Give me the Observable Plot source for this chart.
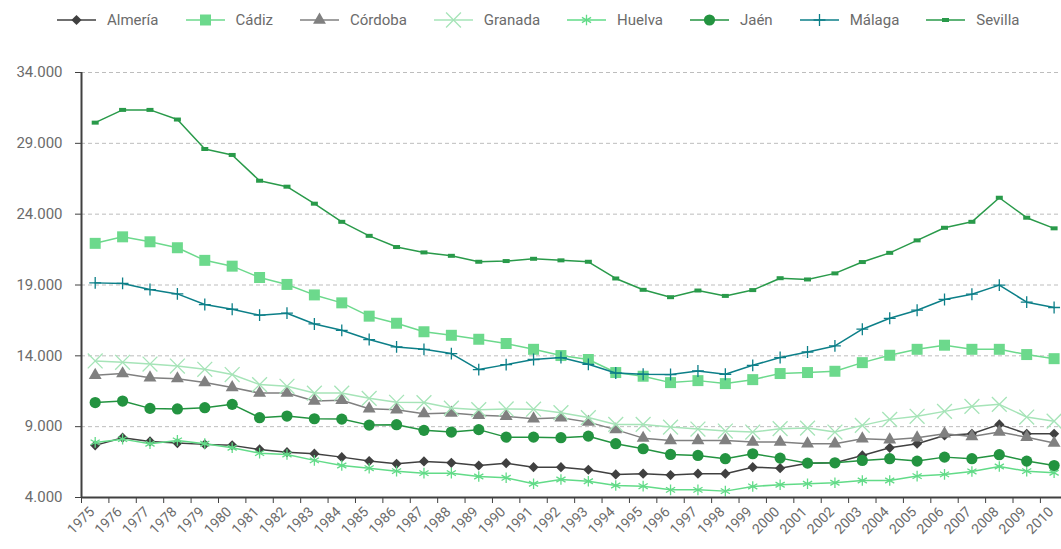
<!DOCTYPE html>
<html><head><meta charset="utf-8">
<script src="https://cdn.jsdelivr.net/npm/d3@7"></script>
<script src="https://cdn.jsdelivr.net/npm/@observablehq/plot@0.6"></script>
<style>
body{margin:0;background:#fff;font-family:Roboto,"Noto Sans",sans-serif;}
#legend{height:40px;display:flex;align-items:center;padding-left:57px;gap:27px;color:#6b6b6b;font-size:15px;box-sizing:border-box;}
.item{display:flex;align-items:center;gap:11px;}
.item svg{display:block;}
</style></head><body>
<div id="legend"></div>
<div id="chart"></div>
<script>
const years = [1975,1976,1977,1978,1979,1980,1981,1982,1983,1984,1985,1986,1987,1988,1989,1990,1991,1992,1993,1994,1995,1996,1997,1998,1999,2000,2001,2002,2003,2004,2005,2006,2007,2008,2009,2010];
const yTicks = [4000,9000,14000,19000,24000,29000,34000];

const almeria = [7680,8220,7960,7840,7750,7680,7390,7200,7090,6850,6570,6380,6545,6450,6260,6425,6140,6140,5960,5630,5680,5580,5680,5680,6140,6070,6425,6450,6970,7510,7800,8380,8500,9160,8500,8500];
const cadiz = [21940,22400,22050,21630,20740,20330,19530,19040,18300,17740,16800,16300,15700,15450,15170,14870,14460,14020,13740,12820,12560,12110,12250,12040,12320,12750,12820,12910,13520,14040,14460,14750,14460,14460,14090,13800];
const cordoba = [12625,12745,12460,12390,12110,11760,11370,11370,10810,10860,10270,10200,9920,9960,9800,9730,9560,9635,9320,8790,8190,8030,8030,8030,7910,7910,7800,7800,8150,8080,8220,8500,8310,8620,8260,7840];
const granada = [13640,13545,13420,13280,13050,12680,11970,11850,11370,11370,11000,10720,10700,10310,10200,10250,10230,9990,9640,9160,9160,8970,8830,8690,8620,8860,8900,8620,9090,9515,9730,10080,10430,10575,9680,9390];
const huelva = [7890,8120,7800,8030,7800,7510,7130,7040,6620,6260,6070,5860,5720,5720,5485,5390,4970,5270,5150,4850,4800,4540,4540,4450,4780,4900,4970,5040,5200,5200,5510,5630,5840,6190,5860,5750];
const jaen = [10700,10810,10290,10250,10340,10575,9635,9750,9560,9535,9110,9140,8740,8620,8790,8260,8260,8220,8330,7800,7440,7040,6970,6740,7090,6780,6425,6450,6616,6740,6570,6850,6740,7020,6570,6260];
const malaga = [19150,19110,18680,18370,17620,17290,16870,17010,16250,15800,15150,14630,14460,14160,13030,13380,13740,13880,13400,12790,12700,12680,12930,12700,13330,13880,14270,14700,15880,16650,17220,17980,18350,18990,17790,17410];
const sevilla = [30460,31360,31360,30680,28600,28180,26360,25940,24740,23460,22470,21680,21300,21060,20640,20690,20850,20740,20640,19460,18660,18140,18610,18230,18640,19480,19390,19820,20620,21270,22150,23040,23460,25160,23750,23000];

const dash = {draw(ctx){ ctx.rect(-3.5,-2,7,4); }};

const series = [
  {name:"Almería", values:almeria, color:"#404040", symbol:"diamond2", r:4.6, filled:true},
  {name:"Cádiz", values:cadiz, color:"#6cd98c", symbol:"square", r:6.2, filled:true},
  {name:"Córdoba", values:cordoba, color:"#808080", symbol:"triangle", r:4.8, filled:true},
  {name:"Granada", values:granada, color:"#a6e4b8", symbol:"times", r:6.8, filled:false},
  {name:"Huelva", values:huelva, color:"#62db88", symbol:"asterisk", r:5, filled:false},
  {name:"Jaén", values:jaen, color:"#239340", symbol:"circle", r:5.6, filled:true},
  {name:"Málaga", values:malaga, color:"#0c7f88", symbol:"plus", r:3.9, filled:false},
  {name:"Sevilla", values:sevilla, color:"#299a4a", symbol:dash, r:4, filled:true}
];

const fmt = d3.formatLocale({decimal:",", thousands:".", grouping:[3]}).format(",.0f");

const marks = [
  Plot.gridY(yTicks.filter(v => v > 4000), {stroke:"#bdbdbd", strokeOpacity:1, strokeDasharray:"4,3"}),
  Plot.axisY({ticks:yTicks, tickSize:6, tickPadding:13, tickFormat:fmt, fontSize:15, stroke:"#404040", fill:"#6b6b6b", label:null}),
  Plot.axisX({ticks:years.map(y => y - 0.5), tickSize:6, tickFormat:() => "", stroke:"#404040", label:null}),
  Plot.axisX({ticks:years, tickSize:0, tickPadding:12, tickRotate:-45, fontSize:14, fill:"#6b6b6b", tickFormat:d => String(d), label:null, dx:-3})
];
for (const s of series) {
  const data = years.map((y, i) => ({year:y, value:s.values[i]}));
  marks.push(Plot.line(data, {x:"year", y:"value", stroke:s.color, strokeWidth:1.5}));
  marks.push(Plot.dot(data, s.filled
    ? {x:"year", y:"value", symbol:s.symbol, r:s.r, fill:s.color, stroke:"none"}
    : {x:"year", y:"value", symbol:s.symbol, r:s.r, stroke:s.color, strokeWidth:1.3, fill:"none"}));
}
marks.push(Plot.ruleX([1974.5], {stroke:"#404040", strokeWidth:2}));
marks.push(Plot.ruleY([4000], {stroke:"#404040", strokeWidth:2}));

const chart = Plot.plot({
  width:1061, height:509,
  marginTop:32, marginBottom:52, marginLeft:81, marginRight:0,
  style:{fontFamily:"Roboto, 'Noto Sans', sans-serif", background:"#fff"},
  x:{domain:[1974.5, 2010.27]},
  y:{domain:[4000, 34000]},
  marks
});
document.getElementById("chart").appendChild(chart);

// legend
const legend = d3.select("#legend");
const symMap = {diamond2:d3.symbolDiamond2, square:d3.symbolSquare, triangle:d3.symbolTriangle, times:d3.symbolTimes, asterisk:d3.symbolAsterisk, circle:d3.symbolCircle, plus:d3.symbolPlus};
for (const s of series) {
  const item = legend.append("div").attr("class","item");
  const svg = item.append("svg").attr("width",39).attr("height",16);
  svg.append("line").attr("x1",0).attr("x2",39).attr("y1",8).attr("y2",8).attr("stroke",s.color).attr("stroke-width",1.5);
  const type = typeof s.symbol === "string" ? symMap[s.symbol] : s.symbol;
  const path = d3.symbol(type, Math.PI * s.r * s.r)();
  const p = svg.append("path").attr("d", path).attr("transform","translate(19.5,8)");
  if (s.filled) p.attr("fill", s.color); else p.attr("fill","none").attr("stroke", s.color).attr("stroke-width",1.3);
  item.append("span").text(s.name);
}
</script>
</body></html>
